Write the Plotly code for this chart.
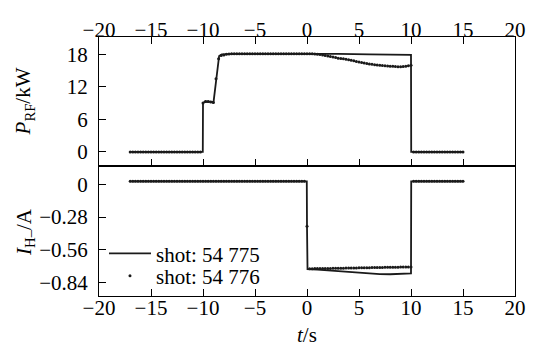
import numpy as np
import plotly.graph_objects as go
from plotly.subplots import make_subplots

# ---------------- data ----------------
# shot 54 775 (solid line)
t_line_p = [-17, -10.02, -10.0, -9.8, -9.1, -9.0, -8.45, -8.2, -7, -4, 0, 3, 6, 9, 10.0, 10.02, 15]
p_line = [0, 0, 9.0, 9.3, 9.25, 9.0, 17.7, 18.0, 18.1, 18.1, 18.15, 18.1, 18.0, 17.95, 17.9, 0, 0]

t_line_i = [-17, -0.02, 0.0, 0.05, 1, 2, 3, 4, 5, 6, 7, 8, 9, 10, 10.02, 15]
i_line = [0.025, 0.025, -0.36, -0.725, -0.73, -0.737, -0.745, -0.752, -0.758, -0.764,
          -0.768, -0.769, -0.766, -0.762, 0.025, 0.025]

# shot 54 776 (dots), sampled every 0.25 s from -17 s to 15 s
t_dots = np.round(np.linspace(-17, 15, 129), 2)
p_dots = [
    0, 0, 0, 0, 0, 0, 0, 0, 0, 0,
    0, 0, 0, 0, 0, 0, 0, 0, 0, 0,
    0, 0, 0, 0, 0, 0, 0, 0,
    9.0, 9.3, 9.3, 9.2, 9.1, 13.5, 17.2, 17.8, 17.9,
    18.0, 18.05, 18.1, 18.1, 18.1, 18.1, 18.1, 18.1, 18.1, 18.1,
    18.1, 18.1, 18.1, 18.1, 18.1, 18.1, 18.1, 18.1, 18.1, 18.1,
    18.1, 18.1, 18.1, 18.1, 18.1, 18.1, 18.1, 18.1, 18.1, 18.1,
    18.1, 18.1, 18.1, 18.1,
    18.05, 18.0, 17.95, 17.9, 17.8, 17.7, 17.6, 17.5, 17.4, 17.3,
    17.25, 17.2, 17.1, 17.0, 16.9, 16.8, 16.7, 16.6, 16.5, 16.4,
    16.3, 16.2, 16.15, 16.1, 16.05, 16.0, 15.95, 15.9, 15.85, 15.8,
    15.8, 15.75, 15.7, 15.7, 15.75, 15.8, 15.9, 16.0,
    0, 0, 0, 0, 0, 0, 0, 0, 0, 0,
    0, 0, 0, 0, 0, 0, 0, 0, 0, 0,
]
i_dots = [
    0.025, 0.025, 0.025, 0.025, 0.025, 0.025, 0.025, 0.025, 0.025, 0.025,
    0.025, 0.025, 0.025, 0.025, 0.025, 0.025, 0.025, 0.025, 0.025, 0.025,
    0.025, 0.025, 0.025, 0.025, 0.025, 0.025, 0.025, 0.025, 0.025, 0.025,
    0.025, 0.025, 0.025, 0.025, 0.025, 0.025, 0.025, 0.025, 0.025, 0.025,
    0.025, 0.025, 0.025, 0.025, 0.025, 0.025, 0.025, 0.025, 0.025, 0.025,
    0.025, 0.025, 0.025, 0.025, 0.025, 0.025, 0.025, 0.025, 0.025, 0.025,
    0.025, 0.025, 0.025, 0.025, 0.025, 0.025, 0.025, 0.025,
    -0.36,
    -0.722, -0.722, -0.721, -0.721, -0.720, -0.720, -0.720, -0.719, -0.719, -0.718,
    -0.718, -0.718, -0.717, -0.717, -0.716, -0.716, -0.716, -0.715, -0.715, -0.714,
    -0.714, -0.714, -0.713, -0.713, -0.712, -0.712, -0.712, -0.711, -0.711, -0.710,
    -0.710, -0.710, -0.709, -0.709, -0.709, -0.708, -0.708, -0.708, -0.708, -0.708,
    0.025, 0.025, 0.025, 0.025, 0.025, 0.025, 0.025, 0.025, 0.025, 0.025,
    0.025, 0.025, 0.025, 0.025, 0.025, 0.025, 0.025, 0.025, 0.025, 0.025,
]

x_ticks = [-20, -15, -10, -5, 0, 5, 10, 15, 20]
x_ticktext = ["\u221220", "\u221215", "\u221210", "\u22125", "0", "5", "10", "15", "20"]
p_ticks = [0, 6, 12, 18]
i_ticks = [0, -0.28, -0.56, -0.84]
i_ticktext = ["0", "\u22120.28", "\u22120.56", "\u22120.84"]

label_line = "shot: 54 775"
label_dots = "shot: 54 776"
title_p = "<i>P</i><sub>RF</sub>/kW"
title_i = "<i>I</i><sub>H\u2013</sub>/A"
title_t = "<i>t</i>/s"

# ---------------- figure ----------------
FONT = "Liberation Serif, Times New Roman, serif"
INK = "#1a1a1a"
FS = 21
X_RANGE = [-20, 20]
P_RANGE = [-2.6, 21.2]
I_RANGE = [-0.955, 0.156]

fig = make_subplots(rows=2, cols=1, vertical_spacing=0)

fig.add_trace(go.Scatter(x=t_line_p, y=p_line, mode="lines", name=label_line,
                         legendgroup="a", showlegend=True, legend="legend",
                         line=dict(color=INK, width=1.8)), row=1, col=1)
fig.add_trace(go.Scatter(x=t_dots, y=p_dots, mode="markers", name=label_dots,
                         legendgroup="b", showlegend=True, legend="legend2",
                         marker=dict(color=INK, size=3)), row=1, col=1)
fig.add_trace(go.Scatter(x=t_line_i, y=i_line, mode="lines", name=label_line,
                         legendgroup="a", showlegend=False,
                         line=dict(color=INK, width=1.8)), row=2, col=1)
fig.add_trace(go.Scatter(x=t_dots, y=i_dots, mode="markers", name=label_dots,
                         legendgroup="b", showlegend=False,
                         marker=dict(color=INK, size=3)), row=2, col=1)

tickfont = dict(family=FONT, size=FS, color="black")
axis_common = dict(showline=True, linecolor="black", linewidth=1, showgrid=False,
                   zeroline=False, ticks="inside", ticklen=7, tickcolor="black",
                   tickwidth=1, automargin=False, tickfont=tickfont)

# y axes carrying the labels: invisible outside ticks push the labels off the frame
ylabel_axis = dict(axis_common, ticks="outside", ticklen=6, tickcolor="rgba(0,0,0,0)")
# overlay y axes drawing the visible inside ticks
ytick_axis = dict(showline=False, showgrid=False, zeroline=False, ticks="inside",
                  ticklen=7, tickcolor="black", tickwidth=1, showticklabels=False,
                  automargin=False, tickmode="array")
# overlay x axes carrying only the labels, placed a little inside the frame
xlabel_axis = dict(showline=False, showgrid=False, zeroline=False, ticks="",
                   automargin=False, tickmode="array", range=X_RANGE,
                   tickvals=x_ticks, ticktext=x_ticktext, tickfont=tickfont,
                   anchor="free")

legend_common = dict(xanchor="left", yanchor="middle", bgcolor="rgba(0,0,0,0)",
                     itemwidth=42, font=dict(family=FONT, size=FS, color="black"))

# page body has an 8 px default margin, so the figure is 8 px smaller than the window
fig.update_layout(
    template="none",
    width=528, height=338,
    margin=dict(l=91, r=21, t=29, b=50),
    paper_bgcolor="white", plot_bgcolor="white",
    font=dict(family=FONT, size=FS, color="black"),
    xaxis=dict(axis_common, side="top", range=X_RANGE, tickmode="array",
               tickvals=x_ticks, showticklabels=False, mirror="ticks"),
    xaxis2=dict(axis_common, range=X_RANGE, tickmode="array",
                tickvals=x_ticks, showticklabels=False, mirror=True),
    xaxis3=dict(xlabel_axis, overlaying="x", side="top", position=0.985),
    xaxis4=dict(xlabel_axis, overlaying="x2", side="bottom", position=0.01),
    yaxis=dict(ylabel_axis, domain=[0.502, 1], range=P_RANGE, tickmode="array",
               tickvals=p_ticks, mirror=True),
    yaxis2=dict(ylabel_axis, domain=[0, 0.502], range=I_RANGE, tickmode="array",
                tickvals=i_ticks, ticktext=i_ticktext, mirror=True),
    yaxis3=dict(ytick_axis, overlaying="y", anchor="x", range=P_RANGE, tickvals=p_ticks),
    yaxis4=dict(ytick_axis, overlaying="y2", anchor="x2", range=I_RANGE, tickvals=i_ticks),
    legend=dict(legend_common, x=0.012, y=0.163),
    legend2=dict(legend_common, x=0.012, y=0.077),
    annotations=[
        dict(text=title_p, xref="paper", yref="paper", x=-0.178, y=0.751,
             xanchor="center", yanchor="middle", textangle=-90, showarrow=False,
             font=dict(family=FONT, size=FS, color="black")),
        dict(text=title_i, xref="paper", yref="paper", x=-0.178, y=0.247,
             xanchor="center", yanchor="middle", textangle=-90, showarrow=False,
             font=dict(family=FONT, size=FS, color="black")),
        dict(text=title_t, xref="paper", yref="paper", x=0.5, y=-0.150,
             xanchor="center", yanchor="middle", showarrow=False,
             font=dict(family=FONT, size=FS, color="black")),
    ],
)

# invisible traces so that the overlay axes are drawn
for xa, ya in [("x", "y3"), ("x2", "y4"), ("x3", "y"), ("x4", "y2")]:
    fig.add_trace(go.Scatter(x=[None], y=[None], xaxis=xa, yaxis=ya, showlegend=False,
                             hoverinfo="skip"))

fig.write_html("out.html")
